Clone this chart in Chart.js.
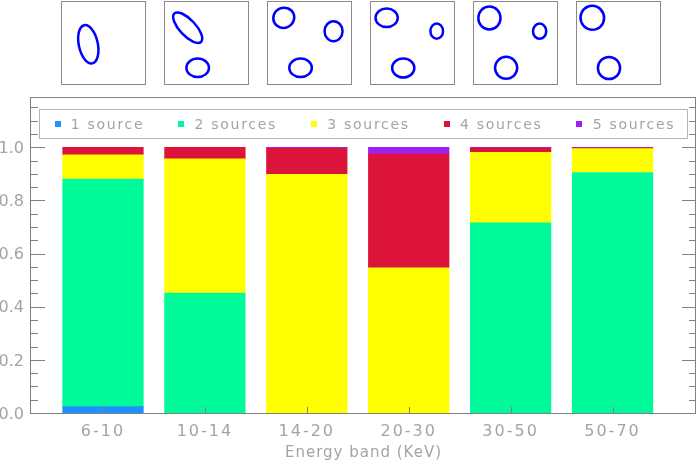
<!DOCTYPE html>
<html>
<head>
<meta charset="utf-8">
<script src="https://cdn.jsdelivr.net/npm/chart.js@4/dist/chart.umd.min.js"></script>
<style>
html,body{margin:0;padding:0;background:#fff;overflow:hidden}
#wrap{width:698px;height:463px}
</style>
</head>
<body>
<div id="wrap"><canvas id="c" width="698" height="463"></canvas></div>
<script>
// ---- data ----
const categories = ['6-10', '10-14', '14-20', '20-30', '30-50', '50-70'];
const seriesNames = ['1 source', '2 sources', '3 sources', '4 sources', '5 sources'];
const oneSource   = [0.024, 0.000, 0.000, 0.000, 0.000, 0.000];
const twoSources  = [0.856, 0.451, 0.000, 0.000, 0.716, 0.905];
const threeSources= [0.091, 0.505, 0.898, 0.546, 0.265, 0.090];
const fourSources = [0.029, 0.044, 0.098, 0.428, 0.017, 0.003];
const fiveSources = [0.000, 0.000, 0.004, 0.026, 0.002, 0.002];
const yTickValues = [0.0, 0.2, 0.4, 0.6, 0.8, 1.0];
const xAxisTitle = 'Energy band (KeV)';
// source outlines shown in the small panels above each band: [cx, cy, rx, ry, rotationDeg] (panel-local)
const sourceShapes = [
  [[27.0, 43.0, 19.5, 9.5, 78]],
  [[23.5, 26.4, 19.5, 8.0, 47], [33.5, 66.5, 11.3, 9.3, 0]],
  [[16.7, 16.5, 10.6, 10.0, -25], [66.5, 29.9, 9.0, 10.0, 0], [33.5, 66.5, 11.3, 9.3, 0]],
  [[16.7, 16.5, 11.1, 9.3, 0], [66.8, 29.9, 6.3, 7.6, 0], [33.3, 66.7, 11.1, 9.5, 0]],
  [[16.6, 16.7, 11.1, 11.5, 0], [66.8, 29.9, 6.6, 7.6, 0], [33.3, 66.5, 11.1, 11.0, 0]],
  [[16.6, 16.5, 11.8, 12.0, -20], [33.3, 66.7, 11.1, 11.1, 0]]
];

// ---- styling ----
const seriesValues = [oneSource, twoSources, threeSources, fourSources, fiveSources];
const seriesColors = ['#1E90FF', '#00FA9A', '#FFFF00', '#DC143C', '#A020F0'];
const TEXT = '#a4a4a4';
const AXIS = '#808080';
const FONT = '"DejaVu Sans", sans-serif';
const X_MIN = -0.7066, X_MAX = 5.8194;
const Y_MAX = 1.189;

const spacingPlugin = {
  id: 'spacing',
  afterLayout(chart) {
    const sp = { x: { labels: '2px', title: '1px' }, y: { labels: '0px', title: '0px' } };
    Object.values(chart.scales).forEach(s => {
      if (s._wrappedSpacing) return;
      s._wrappedSpacing = true;
      const dl = s.drawLabels.bind(s), dt = s.drawTitle.bind(s);
      const conf = sp[s.id] || { labels: '0px', title: '0px' };
      s.drawLabels = function (a) { const c = chart.ctx; c.save(); c.letterSpacing = conf.labels; dl(a); c.restore(); };
      s.drawTitle = function (a) { const c = chart.ctx; c.save(); c.letterSpacing = conf.title; dt(a); c.restore(); };
    });
  }
};

const framePlugin = {
  id: 'frame',
  afterDatasetsDraw(chart) {
    const { ctx, chartArea: a, scales: { x, y } } = chart;
    ctx.save();
    ctx.strokeStyle = AXIS;
    ctx.lineWidth = 1;
    ctx.beginPath();
    for (let k = 1; k <= 23; k++) {
      const v = k * 0.05;
      const py = Math.round(y.getPixelForValue(v)) + 0.5;
      const len = (k % 4 === 0) ? 14 : 7;
      ctx.moveTo(a.left, py); ctx.lineTo(a.left + len, py);
      ctx.moveTo(a.right, py); ctx.lineTo(a.right - len, py);
    }
    categories.forEach((c, i) => {
      const px = Math.round(x.getPixelForValue(i)) + 0.5;
      ctx.moveTo(px, a.bottom); ctx.lineTo(px, a.bottom - 6);
    });
    ctx.stroke();
    ctx.strokeRect(a.left - 0.5, a.top + 0.5, a.right - a.left, a.bottom - a.top);
    ctx.restore();
  }
};

const legendPlugin = {
  id: 'boxLegend',
  afterDraw(chart) {
    const { ctx, chartArea: a } = chart;
    ctx.save();
    const L = a.left + 8.5, T = a.top + 12.5, R = a.right - 8.5, H = 29;
    ctx.strokeStyle = '#b4b4b4';
    ctx.lineWidth = 1;
    ctx.strokeRect(L, T, R - L, H);
    ctx.font = '14px ' + FONT;
    ctx.letterSpacing = '1.7px';
    ctx.textBaseline = 'alphabetic';
    ctx.textAlign = 'left';
    let xx = L + 15;
    chart.data.datasets.forEach(ds => {
      ctx.fillStyle = ds.backgroundColor;
      ctx.fillRect(Math.round(xx), T + 11.5, 6, 6);
      ctx.fillStyle = TEXT;
      ctx.fillText(ds.label, xx + 16.3, T + 19.5);
      xx += 16.3 + ctx.measureText(ds.label).width + 34;
    });
    ctx.restore();
  }
};

const panelsPlugin = {
  id: 'panels',
  afterDraw(chart) {
    const ctx = chart.ctx;
    ctx.save();
    sourceShapes.forEach((shapes, i) => {
      const L = 61.3 + i * 102.88, T = 1.3;
      const pl = Math.round(L);
      ctx.strokeStyle = '#8a8a8a';
      ctx.lineWidth = 1;
      ctx.strokeRect(pl + 0.5, 1.5, 84, 83);
      ctx.strokeStyle = '#0000FF';
      ctx.lineWidth = 2.5;
      shapes.forEach(([cx, cy, rx, ry, rot]) => {
        ctx.beginPath();
        ctx.ellipse(L + cx, T + cy, rx, ry, rot * Math.PI / 180, 0, Math.PI * 2);
        ctx.stroke();
      });
    });
    ctx.restore();
  }
};

new Chart(document.getElementById('c'), {
  type: 'bar',
  data: {
    datasets: seriesNames.map((name, k) => ({
      label: name,
      data: seriesValues[k].map((v, i) => ({ x: i, y: v > 0 ? v : null })),
      backgroundColor: seriesColors[k],
      borderWidth: 0,
      barThickness: 80.6
    }))
  },
  options: {
    responsive: false,
    animation: false,
    devicePixelRatio: 1,
    layout: { padding: { top: 97, right: 2, bottom: 0, left: 0 } },
    plugins: { legend: { display: false }, tooltip: { enabled: false }, title: { display: false } },
    scales: {
      x: {
        type: 'linear', stacked: true, min: X_MIN, max: X_MAX, offset: false,
        afterBuildTicks: s => { s.ticks = categories.map((c, i) => ({ value: i })); },
        afterFit: s => { s.height = 50; },
        ticks: { callback: v => categories[v], color: TEXT, font: { family: FONT, size: 16 }, padding: 9, maxRotation: 0, autoSkip: false },
        grid: { display: false, drawTicks: false },
        border: { display: false },
        title: { display: true, text: xAxisTitle, color: TEXT, font: { family: FONT, size: 15 }, padding: { top: 0, bottom: 1 } }
      },
      y: {
        type: 'linear', stacked: true, min: 0, max: Y_MAX,
        afterBuildTicks: s => { s.ticks = yTickValues.map(v => ({ value: v })); },
        afterFit: s => { s.width = 31; },
        ticks: { callback: v => Number(v).toFixed(1), color: TEXT, font: { family: FONT, size: 16 }, padding: 7, labelOffset: 1.5 },
        grid: { display: false, drawTicks: false },
        border: { display: false }
      }
    }
  },
  plugins: [spacingPlugin, framePlugin, legendPlugin, panelsPlugin]
});
</script>
</body>
</html>
